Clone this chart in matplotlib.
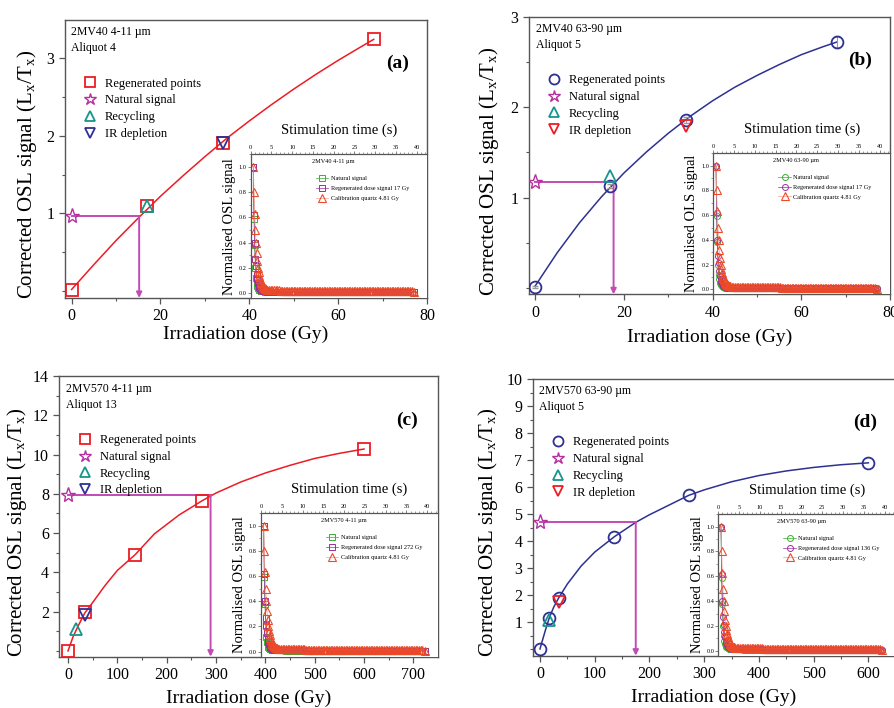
import numpy as np
import matplotlib
matplotlib.use('Agg')
import matplotlib.pyplot as plt
from matplotlib.ticker import MultipleLocator, FixedLocator

plt.rcParams['font.family'] = ['Liberation Serif', 'DejaVu Serif']
plt.rcParams['mathtext.fontset'] = 'custom'
plt.rcParams['mathtext.rm'] = 'Liberation Serif'

## dose response data ##

# (a) 2MV40 4-11 um, aliquot 4
a_reg_dose = [0, 17, 34, 68]
a_reg_sig = [0.01, 1.09, 1.91, 3.24]
a_fit_dose = [0, 5, 10, 15, 20, 25, 30, 35, 40, 45, 50, 55, 60, 65, 68]
a_fit_sig = [0.02, 0.34, 0.65, 0.94, 1.22, 1.48, 1.73, 1.97, 2.19, 2.40, 2.60, 2.79, 2.97, 3.14, 3.24]
a_nat, a_de = 0.965, 15.2
a_recyc = [17, 1.10]
a_ir = [34, 1.91]

# (b) 2MV40 63-90 um, aliquot 5
b_reg_dose = [0, 17, 34, 68]
b_reg_sig = [0.01, 1.13, 1.86, 2.72]
b_reg_err = [0.01, 0.02, 0.03, 0.07]
b_fit_dose = [0, 5, 10, 15, 20, 25, 30, 35, 40, 45, 50, 55, 60, 65, 68]
b_fit_sig = [0.02, 0.39, 0.72, 1.01, 1.27, 1.50, 1.71, 1.90, 2.07, 2.22, 2.35, 2.47, 2.58, 2.67, 2.72]
b_nat, b_de = 1.17, 17.7
b_recyc = [17, 1.24]
b_ir = [34, 1.79]

# (c) 2MV570 4-11 um, aliquot 13
c_reg_dose = [0, 34, 136, 272, 600]
c_reg_sig = [0.0, 1.97, 4.89, 7.65, 10.28]
c_fit_dose = [0, 10, 20, 34, 50, 75, 100, 136, 175, 225, 272, 300, 350, 400, 450, 500, 550, 600]
c_fit_sig = [0.0, 0.71, 1.25, 1.93, 2.47, 3.33, 4.10, 4.90, 5.96, 6.92, 7.65, 8.04, 8.60, 9.06, 9.45, 9.80, 10.06, 10.28]
c_nat, c_de = 7.93, 289
c_recyc = [17, 1.10]
c_ir = [34, 1.82]

# (d) 2MV570 63-90 um, aliquot 5
d_reg_dose = [0, 17, 34, 136, 272, 600]
d_reg_sig = [0.0, 1.17, 1.89, 4.17, 5.70, 6.90]
d_fit_dose = [0, 10, 17, 25, 34, 50, 75, 100, 136, 175, 200, 240, 272, 300, 350, 400, 450, 500, 550, 600]
d_fit_sig = [0.02, 0.72, 1.17, 1.56, 1.90, 2.42, 3.08, 3.60, 4.17, 4.70, 4.98, 5.38, 5.70, 5.90, 6.20, 6.43, 6.60, 6.73, 6.83, 6.90]
d_nat, d_de = 4.72, 175
d_recyc = [17, 1.09]
d_ir = [34, 1.77]

## OSL decay curves for the insets ##
t_fast = [0.64, 0.80, 0.96, 1.12, 1.28, 1.44, 1.60, 1.76, 1.92, 2.08, 2.24,
          2.40, 2.56, 2.72, 2.88, 3.04, 3.20, 3.36, 3.52, 3.68, 3.84, 4.00]
t_tail = [4.4, 4.8, 5.2, 5.6, 6.0, 6.4, 6.8, 7.2, 7.6, 8.0, 8.4, 8.8, 9.2, 9.6, 10.0,
          10.4, 10.8, 11.2, 11.6, 12.0, 12.4, 12.8, 13.2, 13.6, 14.0, 14.4, 14.8, 15.2,
          15.6, 16.0, 16.4, 16.8, 17.2, 17.6, 18.0, 18.4, 18.8, 19.2, 19.6, 20.0, 20.4,
          20.8, 21.2, 21.6, 22.0, 22.4, 22.8, 23.2, 23.6, 24.0, 24.4, 24.8, 25.2, 25.6,
          26.0, 26.4, 26.8, 27.2, 27.6, 28.0, 28.4, 28.8, 29.2, 29.6, 30.0, 30.4, 30.8,
          31.2, 31.6, 32.0, 32.4, 32.8, 33.2, 33.6, 34.0, 34.4, 34.8, 35.2, 35.6, 36.0,
          36.4, 36.8, 37.2, 37.6, 38.0, 38.4, 38.8, 39.4]
cal_fast = [1.0, 0.80, 0.63, 0.50, 0.40, 0.32, 0.25, 0.20, 0.165, 0.135, 0.11,
            0.09, 0.075, 0.063, 0.054, 0.047, 0.041, 0.036, 0.032, 0.029, 0.026, 0.024]
cal_tail = [0.023, 0.022, 0.021, 0.021, 0.020, 0.020, 0.020, 0.019, 0.019, 0.019,
            0.019, 0.018, 0.018, 0.018, 0.018, 0.018, 0.017, 0.017, 0.017, 0.017,
            0.017, 0.017, 0.016, 0.016, 0.016, 0.016, 0.016, 0.016, 0.016, 0.016,
            0.015, 0.015, 0.015, 0.015, 0.015, 0.015, 0.015, 0.015, 0.015, 0.015,
            0.014, 0.014, 0.014, 0.014, 0.014, 0.014, 0.014, 0.014, 0.014, 0.014,
            0.014, 0.014, 0.013, 0.013, 0.013, 0.013, 0.013, 0.013, 0.013, 0.013,
            0.013, 0.013, 0.013, 0.013, 0.013, 0.013, 0.012, 0.012, 0.012, 0.012,
            0.012, 0.012, 0.012, 0.012, 0.012, 0.012, 0.012, 0.012, 0.012, 0.012,
            0.012, 0.012, 0.012, 0.012, 0.012, 0.012, 0.012, 0.004]
nat_fast = [1.0, 0.59, 0.38, 0.20, 0.12, 0.08, 0.055, 0.04, 0.032, 0.026, 0.022,
            0.019, 0.017, 0.015, 0.014, 0.013, 0.012, 0.012, 0.011, 0.011, 0.010, 0.010]
nat_tail = [0.010, 0.010, 0.010, 0.010, 0.009, 0.009, 0.009, 0.009, 0.009, 0.009,
            0.009, 0.009, 0.009, 0.009, 0.009, 0.008, 0.008, 0.008, 0.008, 0.008,
            0.008, 0.008, 0.008, 0.008, 0.008, 0.008, 0.008, 0.008, 0.008, 0.008,
            0.008, 0.008, 0.008, 0.008, 0.008, 0.008, 0.008, 0.008, 0.007, 0.007,
            0.007, 0.007, 0.007, 0.007, 0.007, 0.007, 0.007, 0.007, 0.007, 0.007,
            0.007, 0.007, 0.007, 0.007, 0.007, 0.007, 0.007, 0.007, 0.007, 0.007,
            0.007, 0.007, 0.007, 0.007, 0.007, 0.007, 0.007, 0.007, 0.007, 0.007,
            0.007, 0.007, 0.007, 0.007, 0.007, 0.007, 0.007, 0.007, 0.007, 0.007,
            0.007, 0.007, 0.007, 0.007, 0.007, 0.007, 0.007, 0.007]
reg_fast = [1.0, 0.62, 0.40, 0.27, 0.21, 0.15, 0.11, 0.08, 0.06, 0.047, 0.038,
            0.031, 0.026, 0.022, 0.019, 0.017, 0.015, 0.014, 0.013, 0.012, 0.012, 0.011]
reg_tail = [0.011, 0.011, 0.011, 0.011, 0.011, 0.010, 0.010, 0.010, 0.010, 0.010,
            0.010, 0.010, 0.010, 0.010, 0.010, 0.010, 0.009, 0.009, 0.009, 0.009,
            0.009, 0.009, 0.009, 0.009, 0.009, 0.009, 0.009, 0.009, 0.009, 0.009,
            0.009, 0.009, 0.009, 0.009, 0.009, 0.009, 0.009, 0.009, 0.009, 0.009,
            0.009, 0.009, 0.009, 0.009, 0.009, 0.009, 0.009, 0.009, 0.009, 0.009,
            0.008, 0.008, 0.008, 0.008, 0.008, 0.008, 0.008, 0.008, 0.008, 0.008,
            0.008, 0.008, 0.008, 0.008, 0.008, 0.008, 0.008, 0.008, 0.008, 0.008,
            0.008, 0.008, 0.008, 0.008, 0.008, 0.008, 0.008, 0.008, 0.008, 0.008,
            0.008, 0.008, 0.008, 0.008, 0.008, 0.008, 0.008, 0.008]

t_stim = t_fast + t_tail
cal_sig = cal_fast + cal_tail
nat_sig = nat_fast + nat_tail
reg_sig = reg_fast + reg_tail

RED = '#ed1c24'
NAVY = '#2e3192'
MAG = '#b62f9e'
MAGL = '#c24bb4'
TEAL = '#16958e'
GREEN = '#3aad34'
PURPLE = '#9a2f9e'
ORANGE = '#ec4b2a'
FRAME = '#555555'

panels = [
    dict(rect=[0.0726, 0.5791, 0.4045, 0.3927], inset=[0.2801, 0.5791, 0.1970, 0.2030],
         xlim=(-1.5, 80), ylim=(-0.09, 3.49), xmaj=20, xmin=10, yticks=[1, 2, 3], ymin=0.5,
         reg=(a_reg_dose, a_reg_sig, None), fit=(a_fit_dose, a_fit_sig), nat=a_nat, de=a_de,
         recyc=a_recyc, ir=a_ir, col=RED, mk='s', ir_col=NAVY, letter='(a)',
         name='2MV40 4-11 µm', aliquot='Aliquot 4', ins_mk='s',
         ins_ylabel='Normalised OSL signal', reg_label='Regenerated dose signal 17 Gy',
         xlpad=1, ylx=-0.073),
    dict(rect=[0.5911, 0.5843, 0.4034, 0.3921], inset=[0.7970, 0.5843, 0.1975, 0.1992],
         xlim=(-1.35, 80), ylim=(-0.07, 3.0), xmaj=20, xmin=10, yticks=[1, 2, 3], ymin=0.5,
         reg=(b_reg_dose, b_reg_sig, b_reg_err), fit=(b_fit_dose, b_fit_sig), nat=b_nat, de=b_de,
         recyc=b_recyc, ir=b_ir, col=NAVY, mk='o', ir_col=RED, letter='(b)',
         name='2MV40 63-90 µm', aliquot='Aliquot 5', ins_mk='o',
         ins_ylabel='Normalised OLS signal', reg_label='Regenerated dose signal 17 Gy',
         xlpad=6, ylx=-0.079),
    dict(rect=[0.0663, 0.0725, 0.4228, 0.3965], inset=[0.2916, 0.0725, 0.1974, 0.2025],
         xlim=(-17.6, 749.5), ylim=(-0.29, 14), xmaj=100, xmin=50, yticks=[2, 4, 6, 8, 10, 12, 14], ymin=1,
         reg=(c_reg_dose, c_reg_sig, None), fit=(c_fit_dose, c_fit_sig), nat=c_nat, de=c_de,
         recyc=c_recyc, ir=c_ir, col=RED, mk='s', ir_col=NAVY, letter='(c)',
         name='2MV570 4-11 µm', aliquot='Aliquot 13', ins_mk='s',
         ins_ylabel='Normalised OSL signal', reg_label='Regenerated dose signal 272 Gy',
         xlpad=5, ylx=-0.081),
    dict(rect=[0.5952, 0.0739, 0.4048, 0.3908], inset=[0.8026, 0.0739, 0.1974, 0.1997],
         xlim=(-13.3, 648.7), ylim=(-0.23, 10), xmaj=100, xmin=50, yticks=list(range(1, 11)), ymin=0.5,
         reg=(d_reg_dose, d_reg_sig, None), fit=(d_fit_dose, d_fit_sig), nat=d_nat, de=d_de,
         recyc=d_recyc, ir=d_ir, col=NAVY, mk='o', ir_col=RED, letter='(d)',
         name='2MV570 63-90 µm', aliquot='Aliquot 5', ins_mk='o',
         ins_ylabel='Normalised OSL signal', reg_label='Regenerated dose signal 136 Gy',
         xlpad=5, ylx=-0.089),
]

fig = plt.figure(figsize=(8.95, 7.08), dpi=100)

for p in panels:
    ax = fig.add_axes(p['rect'])
    ax.plot(p['fit'][0], p['fit'][1], color=p['col'], lw=1.1, zorder=2)
    rx, ry, rerr = p['reg']
    if rerr is not None:
        ax.errorbar(rx, ry, yerr=rerr, fmt='none', ecolor='#999999', elinewidth=0.8, capsize=2, zorder=3)
    ax.plot(rx, ry, ls='none', marker=p['mk'], ms=8.5, mfc='none', mec=p['col'], mew=1.3,
            label='Regenerated points', zorder=4)
    ax.plot([0], [p['nat']], ls='none', marker='*', ms=11, mfc='none', mec=MAG, mew=1.0,
            label='Natural signal', zorder=5)
    ax.plot([p['recyc'][0]], [p['recyc'][1]], ls='none', marker='^', ms=9, mfc='none', mec=TEAL,
            mew=1.3, label='Recycling', zorder=5)
    ax.plot([p['ir'][0]], [p['ir'][1]], ls='none', marker='v', ms=9, mfc='none', mec=p['ir_col'],
            mew=1.3, label='IR depletion', zorder=5)

    # equivalent dose projection
    ax.plot([0, p['de']], [p['nat'], p['nat']], color=MAGL, lw=1.4, zorder=3)
    ax.annotate('', xy=(p['de'], p['ylim'][0]), xytext=(p['de'], p['nat']),
                arrowprops=dict(arrowstyle='-|>', color=MAGL, lw=1.4, shrinkA=0, shrinkB=0,
                                mutation_scale=8), zorder=3)

    ax.set_xlim(p['xlim'])
    ax.set_ylim(p['ylim'])
    ax.xaxis.set_major_locator(MultipleLocator(p['xmaj']))
    ax.xaxis.set_minor_locator(MultipleLocator(p['xmin']))
    ax.yaxis.set_major_locator(FixedLocator(p['yticks']))
    ax.yaxis.set_minor_locator(MultipleLocator(p['ymin']))
    ax.tick_params(labelsize=11.5, direction='out', length=4, width=0.9, color=FRAME)
    ax.tick_params(which='minor', direction='out', length=2.5, width=0.8, color=FRAME)
    for s in ax.spines.values():
        s.set_color(FRAME)
        s.set_linewidth(1.0)
    ax.set_xlabel('Irradiation dose (Gy)', fontsize=14, labelpad=p['xlpad'])
    ax.set_ylabel('Corrected OSL signal (L$_\\mathregular{x}$/T$_\\mathregular{x}$)', fontsize=15)
    ax.yaxis.set_label_coords(p['ylx'], 0.445)

    ax.text(0.018, 0.955, p['name'], transform=ax.transAxes, fontsize=8.5, va='center')
    ax.text(0.018, 0.898, p['aliquot'], transform=ax.transAxes, fontsize=8.5, va='center')
    ax.text(0.918, 0.843, p['letter'], transform=ax.transAxes, fontsize=14, fontweight='bold',
            ha='center', va='center')
    ax.legend(loc='upper left', bbox_to_anchor=(0.035, 0.815), frameon=False, fontsize=9,
              borderpad=0, handlelength=1.0, handletextpad=0.7, labelspacing=0.38,
              numpoints=1, markerscale=0.85)

    # inset with the OSL decay curves
    ins = fig.add_axes(p['inset'])
    ins.plot(t_stim, nat_sig, color=GREEN, lw=0.5, marker=p['ins_mk'], ms=4.3, mfc='none', mec=GREEN,
             mew=0.7, label='Natural signal')
    ins.plot(t_stim, reg_sig, color=PURPLE, lw=0.5, marker=p['ins_mk'], ms=4.3, mfc='none',
             mec=PURPLE, mew=0.7, label=p['reg_label'])
    ins.plot(t_stim, cal_sig, color='#f6a08c', lw=0.5, marker='^', ms=5.2, mfc='none', mec=ORANGE,
             mew=0.8, label='Calibration quartz 4.81 Gy')
    ins.set_xlim(0, 42.5)
    ins.set_ylim(-0.04, 1.1)
    ins.xaxis.tick_top()
    ins.xaxis.set_label_position('top')
    ins.xaxis.set_major_locator(MultipleLocator(5))
    ins.xaxis.set_minor_locator(MultipleLocator(1))
    ins.yaxis.set_major_locator(MultipleLocator(0.2))
    ins.yaxis.set_minor_locator(MultipleLocator(0.1))
    ins.yaxis.set_major_formatter(plt.FormatStrFormatter('%.1f'))
    ins.tick_params(labelsize=4.5, direction='out', length=2, width=0.5, pad=1, color=FRAME)
    ins.tick_params(which='minor', length=1.2, width=0.4, color=FRAME)
    ins.spines['right'].set_visible(False)
    ins.spines['bottom'].set_visible(False)
    for s in ['top', 'left']:
        ins.spines[s].set_color(FRAME)
        ins.spines[s].set_linewidth(0.9)
    ins.set_xlabel('Stimulation time (s)', fontsize=10.5, labelpad=8)
    ins.set_ylabel(p['ins_ylabel'], fontsize=10.5, labelpad=2)
    ins.text(0.47, 0.95, p['name'], transform=ins.transAxes, fontsize=4.5, ha='center', va='center')
    ins.legend(loc='upper left', bbox_to_anchor=(0.35, 0.87), fontsize=4.5, frameon=False,
               handlelength=2.0, labelspacing=0.7, borderpad=0, handletextpad=0.4)

fig.savefig('out.png', dpi=100)
